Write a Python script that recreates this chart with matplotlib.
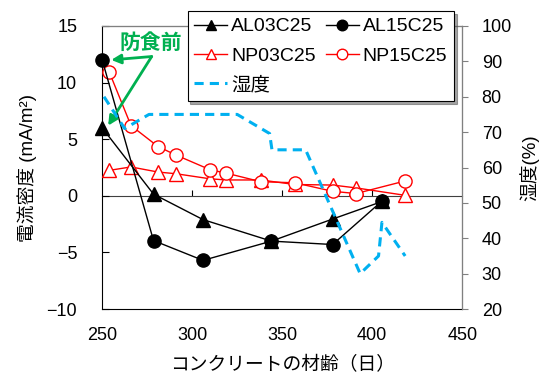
import matplotlib
matplotlib.use("Agg")
import matplotlib.pyplot as plt

plt.rcParams['font.family'] = ['Liberation Sans', 'Noto Sans CJK JP']

# 電流密度 (mA/m2)
al03_days = [250, 278.5, 306, 344, 378, 405.5]
al03_cd = [6.0, 0.15, -2.1, -4.0, -2.05, -0.5]
al15_days = [250, 278.5, 306, 344, 378, 405.5]
al15_cd = [12.0, -3.95, -5.7, -4.0, -4.3, -0.45]
np_days = [254, 266, 281, 291, 310, 319, 338, 357, 378, 391, 418]
np03_cd = [2.25, 2.55, 2.1, 1.95, 1.5, 1.4, 1.4, 1.0, 0.95, 0.7, 0.05]
np15_cd = [10.9, 6.2, 4.35, 3.6, 2.3, 2.0, 1.25, 1.15, 0.4, 0.2, 1.3]

# 湿度 (%)
hum_days = [251, 262.5, 276, 325, 343, 344.3, 363, 393.3, 403.5, 405.4, 418.3]
hum = [80, 71, 75, 75, 69.6, 65, 65, 30, 35, 44.5, 35]

GREEN = '#00B050'
BLUE = '#00B0F0'
GRAY = '#808080'

fig = plt.figure(figsize=(5.48, 3.76), dpi=100)
ax = fig.add_axes([0.1865, 0.178, 0.657, 0.753])
ax2 = ax.twinx()

ms = 9.5
h1, = ax.plot(al03_days, al03_cd, color='black', lw=1, marker='^', ms=ms,
              label='AL03C25', clip_on=False, zorder=4)
h2, = ax.plot(al15_days, al15_cd, color='black', lw=1, marker='o', ms=ms,
              label='AL15C25', clip_on=False, zorder=4)
h3, = ax.plot(np_days, np03_cd, color='red', lw=1, marker='^', ms=ms,
              mfc='white', mec='red', label='NP03C25', clip_on=False, zorder=3)
h4, = ax.plot(np_days, np15_cd, color='red', lw=1, marker='o', ms=ms,
              mfc='white', mec='red', label='NP15C25', clip_on=False, zorder=3)
h5, = ax2.plot(hum_days, hum, color=BLUE, lw=2.2, ls=(0, (3, 2)), label='湿度')

ax.set_xlim(250, 450)
ax.set_ylim(-10, 15)
ax.set_xticks([250, 300, 350, 400, 450])
ax.set_yticks([-10, -5, 0, 5, 10, 15])
ax.set_yticklabels(['−10', '−5', '0', '5', '10', '15'])
ax.tick_params(axis='x', length=0, labelsize=13, pad=13)
ax.tick_params(axis='y', direction='in', length=5, width=0.8, labelsize=13,
               pad=18)
ax2.set_ylim(20, 100)
ax2.set_yticks(range(20, 101, 10))
ax2.tick_params(axis='y', direction='out', length=4.5, width=0.8, color=GRAY,
                labelsize=13, pad=9.5)

ax.spines['left'].set_color('black')
ax.spines['bottom'].set_color('black')
for side in ['top', 'right']:
    ax2.spines[side].set_color(GRAY)
ax2.spines['left'].set_visible(False)
ax2.spines['bottom'].set_visible(False)

# x軸 (0 の位置)
zero_pos = (0 - ax.get_ylim()[0]) / (ax.get_ylim()[1] - ax.get_ylim()[0])
sec = ax.secondary_xaxis(zero_pos)
sec.set_xticks([300, 350, 400])
sec.tick_params(axis='x', direction='in', length=4.5, width=0.8,
                labelbottom=False, labeltop=False, bottom=True, top=False)
sec.spines['bottom'].set_color('#404040')
sec.spines['top'].set_visible(False)

ax.set_xlabel('コンクリートの材齢（日）', fontsize=13.5, labelpad=9)
ax.set_ylabel('電流密度 (mA/m²)', fontsize=13.5)
ax.yaxis.set_label_coords(-0.18, 0.5)
ax2.set_ylabel('湿度(%)', fontsize=13.5, rotation=90, labelpad=5.5)

# 防食前
tail = (277.5, 12.3)
ax.annotate('', xy=(al15_days[0] + 5, al15_cd[0]), xytext=tail,
            arrowprops=dict(arrowstyle='-|>', color=GREEN, lw=2,
                            mutation_scale=14, shrinkA=0, shrinkB=0),
            annotation_clip=False, zorder=6)
ax.annotate('', xy=(al03_days[0] + 3.3, al03_cd[0] + 0.2), xytext=tail,
            arrowprops=dict(arrowstyle='-|>', color=GREEN, lw=2,
                            mutation_scale=14, shrinkA=0, shrinkB=0),
            annotation_clip=False, zorder=6)
ax.text(259.5, 13.5, '防食前', color=GREEN, fontsize=15, ha='left',
        va='center', fontweight='bold', zorder=6)

leg = ax2.legend(handles=[h1, h3, h5, h2, h4], ncol=2, loc='upper right',
                 bbox_to_anchor=(0.8285, 0.9707), bbox_transform=fig.transFigure,
                 fontsize=14, frameon=True, fancybox=False, shadow=True,
                 edgecolor='black', framealpha=1, handlelength=1.7,
                 handletextpad=0.2, columnspacing=0.5, labelspacing=0.6,
                 borderpad=0.35, borderaxespad=0, markerscale=0.8)
leg.get_frame().set_linewidth(0.8)

fig.savefig('out.png', dpi=100)
